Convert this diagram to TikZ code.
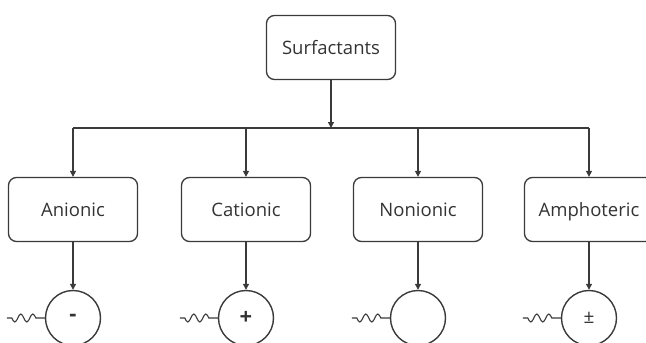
\documentclass[tikz,border=0pt]{standalone}
\usepackage{fontspec}
\setmainfont{Open Sans}
\usetikzlibrary{arrows.meta}
\definecolor{ln}{HTML}{3A3A3A}
\definecolor{tx}{HTML}{333333}
\tikzset{
  box/.style={draw=ln, line width=1.3pt, rounded corners=8pt, minimum width=129pt, minimum height=64pt, inner sep=0pt, text=tx, text height=16pt, text depth=3pt, font=\fontsize{18.5}{22}\selectfont},
  ion/.style={draw=ln, line width=1.4pt, circle, minimum size=55pt, inner sep=0pt, text=tx, font=\fontsize{22}{26}\selectfont\bfseries},
  conn/.style={draw=ln, line width=1.2pt},
  arr/.style={conn, -{Triangle[length=6pt,width=6pt]}},
  tail/.style={draw=ln, line width=1.1pt}
}
\begin{document}
\begin{tikzpicture}[x=1pt,y=-1pt]
\useasboundingbox (0,0) rectangle (646,343);
\node[box] (surf) at (331,47.5) {Surfactants};
\node[box] (an) at (73,209.5) {Anionic};
\node[box] (ca) at (246,209.5) {Cationic};
\node[box] (no) at (418,209.5) {Nonionic};
\node[box] (am) at (589,209.5) {Amphoteric};
\node[ion] (anc) at (73,318) {-};
\node[ion] (cac) at (246,318) {+};
\node[ion] (noc) at (418,318) {};
\node[ion, font=\fontsize{19}{22}\selectfont] (amc) at (589,318) {±};
\coordinate (bus) at (331,128);
\draw[arr] (surf.south) -- (bus);
\draw[conn] (an.north |- bus) -- (am.north |- bus);
\foreach \n in {an,ca,no,am} {
  \draw[arr] (\n.north |- bus) -- (\n.north);
}
\foreach \n/\c in {an/anc,ca/cac,no/noc,am/amc} {
  \draw[arr] (\n.south) -- (\c.north);
  \draw[tail] (\c.west) -- ++(-9,0) sin ++(-3,-4) cos ++(-3,4) sin ++(-3,4) cos ++(-3,-4) sin ++(-3,-4) cos ++(-3,4) sin ++(-3,4) cos ++(-3,-4) -- ++(-5,0);
}
\end{tikzpicture}
\end{document}
